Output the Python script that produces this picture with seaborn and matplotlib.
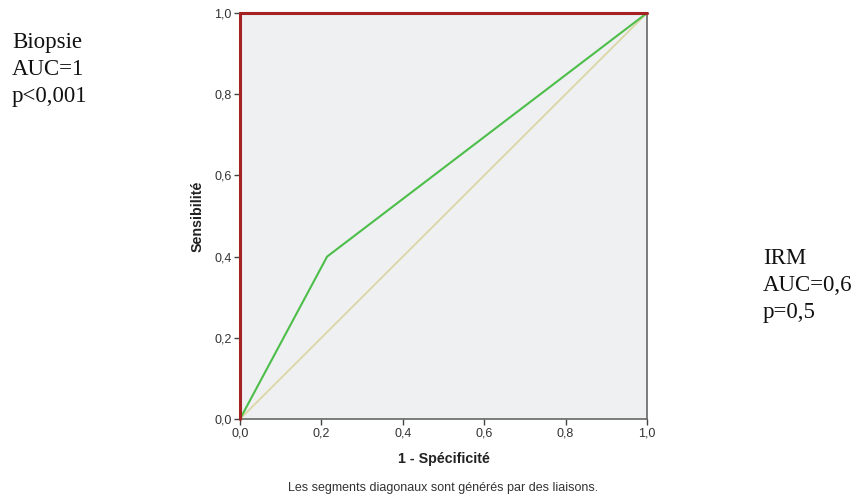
import matplotlib
matplotlib.use("Agg")
import matplotlib.pyplot as plt
import seaborn as sns
import pandas as pd

# ROC data
irm_fpr = [0.0, 0.214, 1.0]
irm_tpr = [0.0, 0.4, 1.0]
bio_fpr = [0.0, 0.0, 1.0]
bio_tpr = [0.0, 1.0, 1.0]
ref_fpr = [0.0, 1.0]
ref_tpr = [0.0, 1.0]
tick_vals = [0.0, 0.2, 0.4, 0.6, 0.8, 1.0]
tick_labels = ["0,0", "0,2", "0,4", "0,6", "0,8", "1,0"]

sns.set_style("white")
plt.rcParams['font.family'] = ['Liberation Sans', 'DejaVu Sans']

fig = plt.figure(figsize=(8.6, 4.97), dpi=100)
ax = fig.add_axes([240/860, (497-419)/497, 407/860, 406/497])
ax.set_facecolor("#EFF0F2")

df_ref = pd.DataFrame({"x": ref_fpr, "y": ref_tpr})
df_irm = pd.DataFrame({"x": irm_fpr, "y": irm_tpr})
df_bio = pd.DataFrame({"x": bio_fpr, "y": bio_tpr})

sns.lineplot(data=df_ref, x="x", y="y", ax=ax, color="#DCD6A4", lw=1.3, sort=False, estimator=None)
sns.lineplot(data=df_irm, x="x", y="y", ax=ax, color="#4DBE4A", lw=1.5, sort=False, estimator=None)
sns.lineplot(data=df_bio, x="x", y="y", ax=ax, color="#A52222", lw=2.2, sort=False, estimator=None, clip_on=False, zorder=5)

ax.set_xlim(0, 1)
ax.set_ylim(0, 1)
ax.set_xticks(tick_vals)
ax.set_xticklabels(tick_labels)
ax.set_yticks(tick_vals)
ax.set_yticklabels(tick_labels)
ax.tick_params(axis="both", direction="out", length=4, width=1, color="#444444",
               labelsize=9, labelcolor="#333333", pad=2, bottom=True, left=True)
for s in ax.spines.values():
    s.set_color("#666666")
    s.set_linewidth(1.2)

ax.set_xlabel("1 - Spécificité", fontsize=10.3, fontweight="bold", color="#222222", labelpad=9)
ax.set_ylabel("Sensibilité", fontsize=10.3, fontweight="bold", color="#222222", labelpad=7)

fig.text(443/860, 1 - 491/497, "Les segments diagonaux sont générés par des liaisons.",
         fontsize=9, color="#333333", ha="center", va="baseline")

fig.text(12/860, 1 - 102/497, "Biopsie\nAUC=1\np<0,001", family=["Liberation Serif", "DejaVu Serif"],
         fontsize=16.5, color="#111111", ha="left", va="baseline", linespacing=1.36)
fig.text(763/860, 1 - 318/497, "IRM\nAUC=0,6\np=0,5", family=["Liberation Serif", "DejaVu Serif"],
         fontsize=16.5, color="#111111", ha="left", va="baseline", linespacing=1.36)

fig.savefig("out.png", dpi=100)
